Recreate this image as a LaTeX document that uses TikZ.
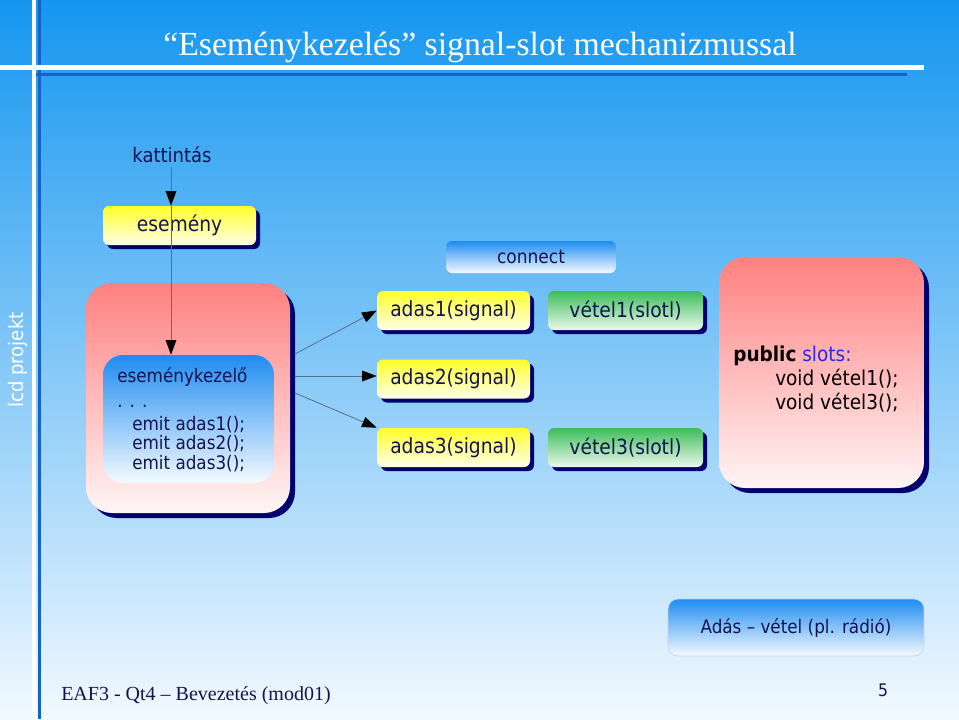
\documentclass[tikz,border=0pt]{standalone}
\usepackage{fontspec}
\setmainfont{Liberation Serif}
\setsansfont{DejaVu Sans Condensed}
\usetikzlibrary{arrows.meta,shadows}

\definecolor{bgtop}{RGB}{20,150,240}
\definecolor{bgbot}{RGB}{242,249,255}
\definecolor{ruleblue}{RGB}{20,100,200}
\definecolor{ink}{RGB}{20,20,80}
\definecolor{shadowblue}{RGB}{0,0,110}
\definecolor{sigtop}{RGB}{255,255,40}
\definecolor{sigbot}{RGB}{255,255,235}
\definecolor{slottop}{RGB}{60,190,90}
\definecolor{slotbot}{RGB}{235,248,235}
\definecolor{bluetop}{RGB}{30,140,240}
\definecolor{bluebot}{RGB}{245,250,255}
\definecolor{pinktop}{RGB}{255,128,128}
\definecolor{pinkbot}{RGB}{255,245,245}
\definecolor{connline}{RGB}{90,110,140}
\definecolor{slotword}{RGB}{40,40,230}

\begin{document}
\begin{tikzpicture}[x=0.75pt, y=-0.75pt,
  boxtext/.style={text=ink, font=\sffamily\fontsize{15.6}{18}\selectfont},
  shadowed/.style={general shadow={fill=shadowblue, shadow xshift=3pt, shadow yshift=-3pt}},
  smallbox/.style={boxtext, rounded corners=4.5pt, inner sep=0pt,
    minimum width=114.75pt, minimum height=29.25pt},
  signalbox/.style={smallbox, shadowed, top color=sigtop, bottom color=sigbot},
  slotbox/.style={smallbox, shadowed, top color=slottop, bottom color=slotbot,
    minimum width=116.25pt},
  bluebox/.style={rounded corners=7.5pt, inner sep=0pt, top color=bluetop, bottom color=bluebot},
  objbox/.style={rounded corners=19.5pt, inner sep=0pt, top color=pinktop, bottom color=pinkbot,
    general shadow={fill=shadowblue, shadow xshift=3.75pt, shadow yshift=-3.75pt},
    minimum width=153pt, minimum height=172.5pt},
  codetext/.style={text=ink, font=\sffamily\fontsize{14}{17}\selectfont, inner sep=0pt},
  slottext/.style={text=black, font=\sffamily\fontsize{15.4}{18}\selectfont, inner sep=0pt},
  conn/.style={draw=connline, line width=0.6pt, -{Triangle[length=11pt,width=8pt,black]}}]

  \useasboundingbox (0,0) rectangle (959,719);

  % ---- slide background and frame lines ----
  \shade[top color=bgtop, bottom color=bgbot] (0,0) rectangle (959,719);
  \fill[ruleblue] (38,0) rectangle (41,719);
  \fill[ruleblue] (35,73) rectangle (907,75.5);
  \fill[white] (0,65) rectangle (924,70);
  \fill[white] (32,0) rectangle (36,719);
  \node[rotate=90, text=white, font=\sffamily\fontsize{15}{18}\selectfont] (side) at (18,360) {lcd projekt};

  % ---- title ----
  \node[anchor=base, text=white, font=\fontsize{25.3}{30}\selectfont] (title) at (480,55)
    {“Eseménykezelés” signal-slot mechanizmussal};

  % ---- sender object ----
  \node[objbox] (sender) at (188,398) {};
  \node[bluebox, rounded corners=15pt, minimum width=128.25pt, minimum height=96pt] (kezelo) at (188.5,419) {};
  \node[codetext, anchor=base west] (kezelo_name) at (117,382) {eseménykezelő};
  \node[codetext, anchor=base west] (kezelo_dots) at (117,407) {. . .};
  \foreach \i/\y in {1/430, 2/449, 3/469} {
    \node[codetext, anchor=base west] (emit\i) at (132,\y) {emit adas\i();};
  }

  % ---- event ----
  \node[boxtext, font=\sffamily\fontsize{15}{18}\selectfont, anchor=base] (katt) at (172,162) {kattintás};
  \node[signalbox] (esemeny) at (179.5,225.5) {esemény};
  \draw[conn] (katt.south -| 171,0) -- (esemeny.north -| 171,0);
  \draw[conn] (esemeny.north -| 171,0) -- (kezelo.north -| 171,0);

  % ---- signals and slots ----
  \node[bluebox, rounded corners=4.5pt, minimum width=127.5pt, minimum height=24pt,
    boxtext, font=\sffamily\fontsize{14.2}{17}\selectfont] (connect) at (531,257) {connect};
  \foreach \i/\y in {1/310.5, 2/379, 3/447.5} {
    \node[signalbox] (adas\i) at (453.5,\y) {adas\i(signal)};
  }
  \node[slotbox] (vetel1) at (625.5,310.5) {vétel1(slotl)};
  \node[slotbox] (vetel3) at (625.5,447.5) {vétel3(slotl)};

  \coordinate (out1) at (295,354);
  \coordinate (out2) at (295,376);
  \coordinate (out3) at (295,393);
  \draw[conn] (out1) -- (adas1.west);
  \draw[conn] (out2) -- (adas2.west |- out2);
  \draw[conn] (out3) -- (adas3.north west);

  % ---- receiver object ----
  \node[objbox, minimum width=153.75pt, minimum height=173.25pt] (receiver) at (821.5,372.5) {};
  \node[slottext, anchor=base west] (slots_head) at (733,361)
    {\textbf{public} \textcolor{slotword}{slots:}};
  \node[slottext, anchor=base west] (slot1) at (775,385) {void vétel1();};
  \node[slottext, anchor=base west] (slot3) at (775,409) {void vétel3();};

  % ---- note and footer ----
  \node[bluebox, draw={rgb,255:red,200;green,212;blue,225}, line width=0.5pt,
    minimum width=192pt, minimum height=42.75pt,
    boxtext, font=\sffamily\fontsize{14}{17}\selectfont] (note) at (796,627.5) {Adás – vétel (pl. rádió)};
  \node[anchor=base west, text=ink, font=\fontsize{15}{18}\selectfont, inner sep=0pt] (footer) at (61,700)
    {EAF3 - Qt4 – Bevezetés (mod01)};
  \node[anchor=base, text=ink, font=\sffamily\fontsize{13}{15}\selectfont, inner sep=0pt] (page) at (883,696) {5};

\end{tikzpicture}
\end{document}
